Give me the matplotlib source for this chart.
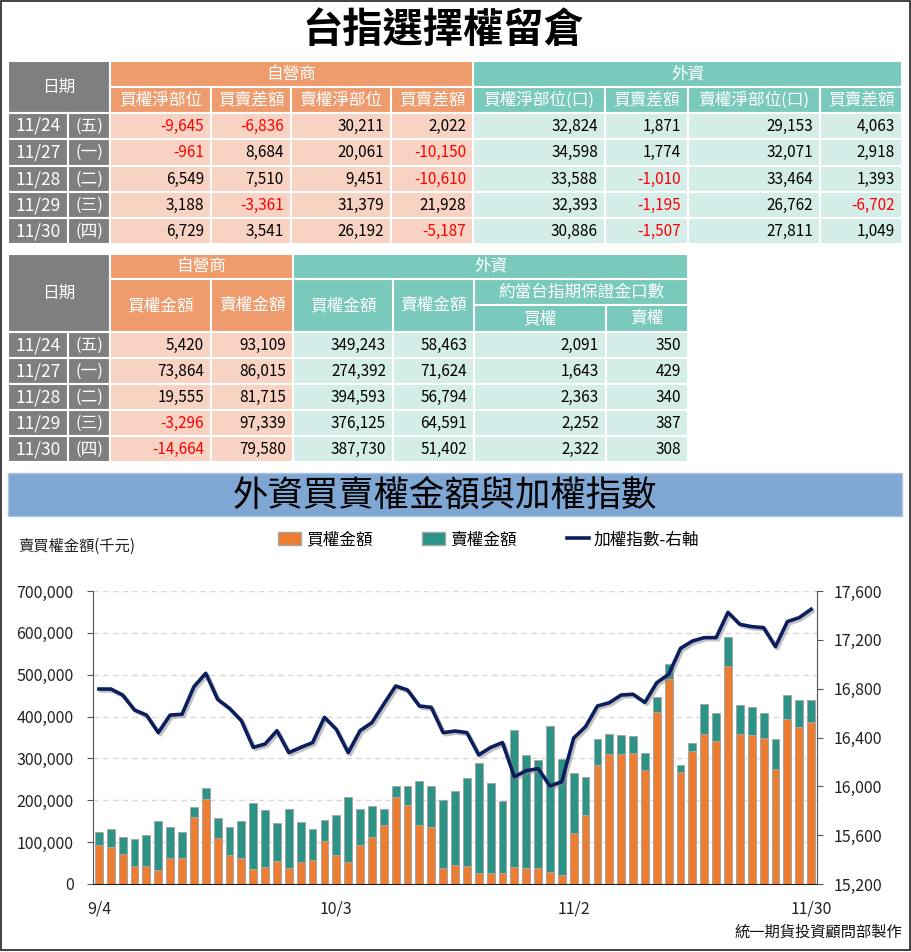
import matplotlib
matplotlib.use("Agg")
import matplotlib.pyplot as plt
import matplotlib.patheffects as pe
from matplotlib.patches import Rectangle, Patch
from matplotlib.lines import Line2D

plt.rcParams['font.family'] = ['Noto Sans CJK TC', 'DejaVu Sans']

# ---- table data ----
dates = ['11/24', '11/27', '11/28', '11/29', '11/30']
weekdays = ['(五)', '(一)', '(二)', '(三)', '(四)']

prop_call_net = [-9645, -961, 6549, 3188, 6729]
prop_call_diff = [-6836, 8684, 7510, -3361, 3541]
prop_put_net = [30211, 20061, 9451, 31379, 26192]
prop_put_diff = [2022, -10150, -10610, 21928, -5187]
fi_call_net = [32824, 34598, 33588, 32393, 30886]
fi_call_diff = [1871, 1774, -1010, -1195, -1507]
fi_put_net = [29153, 32071, 33464, 26762, 27811]
fi_put_diff = [4063, 2918, 1393, -6702, 1049]

prop_call_amt = [5420, 73864, 19555, -3296, -14664]
prop_put_amt = [93109, 86015, 81715, 97339, 79580]
fi_call_amt = [349243, 274392, 394593, 376125, 387730]
fi_put_amt = [58463, 71624, 56794, 64591, 51402]
fi_call_lots = [2091, 1643, 2363, 2252, 2322]
fi_put_lots = [350, 429, 340, 387, 308]

# ---- chart data (千元), 9/4 ~ 11/30 ----
days = ['9/4', '9/5', '9/6', '9/7', '9/8', '9/11', '9/12', '9/13', '9/14', '9/15',
        '9/18', '9/19', '9/20', '9/21', '9/22', '9/25', '9/26', '9/27', '9/28',
        '10/2', '10/3', '10/4', '10/5', '10/6', '10/11', '10/12', '10/13',
        '10/16', '10/17', '10/18', '10/19', '10/20', '10/23', '10/24', '10/25',
        '10/26', '10/27', '10/30', '10/31',
        '11/1', '11/2', '11/3', '11/6', '11/7', '11/8', '11/9', '11/10',
        '11/13', '11/14', '11/15', '11/16', '11/17', '11/20', '11/21', '11/22',
        '11/23', '11/24', '11/27', '11/28', '11/29', '11/30']
call_amt = [93000, 89000, 72000, 44000, 44000, 33000, 63000, 61000, 161000, 204000,
            111000, 69000, 63000, 36000, 41000, 55000, 39000, 53000, 57000, 103000,
            69000, 53000, 92000, 113000, 142000, 207000, 188000, 142000, 137000, 39000,
            45000, 44000, 26000, 26000, 26000, 41000, 39000, 39000, 29000, 22000,
            123000, 166000, 284000, 311000, 311000, 314000, 272000, 412000, 489000, 267000,
            318000, 358000, 342000, 522000, 358000, 356000] + fi_call_amt
put_amt = [32000, 42000, 41000, 63000, 72000, 117000, 74000, 64000, 22000, 25000,
           46000, 66000, 87000, 158000, 136000, 90000, 139000, 94000, 74000, 50000,
           96000, 156000, 87000, 73000, 37000, 27000, 46000, 105000, 96000, 162000,
           176000, 210000, 264000, 216000, 173000, 328000, 268000, 258000, 348000, 277000,
           143000, 90000, 63000, 48000, 46000, 39000, 42000, 34000, 37000, 18000,
           18000, 71000, 66000, 68000, 69000, 66000] + fi_put_amt
taiex = [16797, 16797, 16748, 16625, 16584, 16440, 16584, 16590, 16816, 16926,
         16713, 16639, 16538, 16319, 16347, 16456, 16276, 16319, 16358, 16565,
         16467, 16276, 16456, 16522, 16674, 16822, 16789, 16658, 16647, 16440,
         16453, 16440, 16257, 16319, 16358, 16079, 16128, 16145, 16003, 16038,
         16396, 16489, 16658, 16685, 16748, 16754, 16688, 16849, 16917, 17130,
         17190, 17218, 17218, 17425, 17327, 17308, 17300, 17144, 17349, 17382,
         17450]

GRAY = '#7f7f7f'
ORG_H = '#ee9b6e'
ORG_L = '#f8d3c3'
TEA_H = '#79cabd'
TEA_L = '#d4ede8'
BAR_ORG = '#ed7d31'
BAR_TEA = '#2b9486'
NAVY = '#0b1f5e'

W, H = 912, 952
fig = plt.figure(figsize=(W / 100, H / 100), dpi=100)

# overlay in pixel coords for the tables / titles
ov = fig.add_axes([0, 0, 1, 1])
ov.set_xlim(0, W)
ov.set_ylim(H, 0)
ov.axis('off')


def cell(x0, x1, y0, y1, fc, txt='', color='white', ha='center', size=12):
    ov.add_patch(Rectangle((x0, y0), x1 - x0, y1 - y0, facecolor=fc,
                           edgecolor='white', lw=1.5))
    if txt == '':
        return
    tx = {'center': (x0 + x1) / 2, 'right': x1 - 7, 'left': x0 + 4}[ha]
    ov.text(tx, (y0 + y1) / 2, txt, ha=ha, va='center', color=color, fontsize=size)


def num(v):
    return f"{v:,}"


ov.add_patch(Rectangle((1, 1), W - 3, H - 3, facecolor='none', edgecolor='#222222', lw=1.2))
ov.text(443, 31, '台指選擇權留倉', ha='center', va='center', fontsize=29, fontweight='bold')

# ---- table 1 ----
cx = [8, 68, 110, 211, 291, 391, 473, 605, 688, 820, 902]
ry = [61, 87, 113, 139, 166, 192, 218, 244]
cell(cx[0], cx[2], ry[0], ry[2], GRAY, '日期')
cell(cx[2], cx[6], ry[0], ry[1], ORG_H, '自營商')
cell(cx[6], cx[10], ry[0], ry[1], TEA_H, '外資')
hdr1 = ['買權淨部位', '買賣差額', '賣權淨部位', '買賣差額',
        '買權淨部位(口)', '買賣差額', '賣權淨部位(口)', '買賣差額']
for j, t in enumerate(hdr1):
    cell(cx[j + 2], cx[j + 3], ry[1], ry[2], ORG_H if j < 4 else TEA_H, t)
cols1 = [prop_call_net, prop_call_diff, prop_put_net, prop_put_diff,
         fi_call_net, fi_call_diff, fi_put_net, fi_put_diff]
for i in range(len(dates)):
    y0, y1 = ry[i + 2], ry[i + 3]
    cell(cx[0], cx[1], y0, y1, GRAY, dates[i], size=12.5)
    cell(cx[1], cx[2], y0, y1, GRAY, weekdays[i])
    for j, col in enumerate(cols1):
        v = col[i]
        cell(cx[j + 2], cx[j + 3], y0, y1, ORG_L if j < 4 else TEA_L, num(v),
             color='red' if v < 0 else 'black', ha='right', size=11)

# ---- table 2 ----
cx2 = [8, 68, 110, 211, 293, 393, 474, 606, 688]
ry2 = [254, 279, 305, 332, 358, 384, 410, 436, 462]
cell(cx2[0], cx2[2], ry2[0], ry2[3], GRAY, '日期')
cell(cx2[2], cx2[4], ry2[0], ry2[1], ORG_H, '自營商')
cell(cx2[4], cx2[8], ry2[0], ry2[1], TEA_H, '外資')
cell(cx2[2], cx2[3], ry2[1], ry2[3], ORG_H, '買權金額')
cell(cx2[3], cx2[4], ry2[1], ry2[3], ORG_H, '賣權金額')
cell(cx2[4], cx2[5], ry2[1], ry2[3], TEA_H, '買權金額')
cell(cx2[5], cx2[6], ry2[1], ry2[3], TEA_H, '賣權金額')
cell(cx2[6], cx2[8], ry2[1], ry2[2], TEA_H, '約當台指期保證金口數')
cell(cx2[6], cx2[7], ry2[2], ry2[3], TEA_H, '買權')
cell(cx2[7], cx2[8], ry2[2], ry2[3], TEA_H, '賣權')
cols2 = [prop_call_amt, prop_put_amt, fi_call_amt, fi_put_amt, fi_call_lots, fi_put_lots]
for i in range(len(dates)):
    y0, y1 = ry2[i + 3], ry2[i + 4]
    cell(cx2[0], cx2[1], y0, y1, GRAY, dates[i], size=12.5)
    cell(cx2[1], cx2[2], y0, y1, GRAY, weekdays[i])
    for j, col in enumerate(cols2):
        v = col[i]
        cell(cx2[j + 2], cx2[j + 3], y0, y1, ORG_L if j < 2 else TEA_L, num(v),
             color='red' if v < 0 else 'black', ha='right', size=11)

# ---- chart title bar ----
ov.add_patch(Rectangle((8, 473), 894, 43, facecolor='#7ea7d4', edgecolor='#a9c4e4', lw=1))
ov.text(445, 496, '外資買賣權金額與加權指數', ha='center', va='center', fontsize=25.5)
ov.text(18, 546, '賣買權金額(千元)', ha='left', va='center', fontsize=11, color='#222222')
ov.text(902, 932, '統一期貨投資顧問部製作', ha='right', va='center', fontsize=11,
        color='#111111')

# ---- chart ----
ax = fig.add_axes([93 / W, 1 - 884 / H, (817 - 93) / W, (884 - 591) / H])
x = range(len(days))
ax.bar(x, call_amt, width=0.66, color=BAR_ORG, edgecolor='#a6a6a6', lw=0.7)
ax.bar(x, put_amt, bottom=call_amt, width=0.66, color=BAR_TEA, edgecolor='#a6a6a6', lw=0.7)
ax.set_xlim(-0.5, len(days) - 0.5)
ax.set_ylim(0, 700000)
ax.set_yticks(range(0, 700001, 100000))
ax.set_yticklabels([f"{v:,}" for v in range(0, 700001, 100000)])
ax.set_axisbelow(True)
ax.grid(axis='y', ls=(0, (4, 3)), color='#d9d9d9', lw=1)
xt = [0, 20, 40, 60]
ax.set_xticks(xt)
ax.set_xticklabels([days[i] for i in xt])
ax.tick_params(axis='x', length=0, pad=12, labelsize=11.5, labelcolor='#222222')
ax.tick_params(axis='y', length=4, direction='out', labelsize=11.5, labelcolor='#222222',
               color='#555555', pad=10)
for s in ['top', 'right']:
    ax.spines[s].set_visible(False)
ax.spines['left'].set_color('#555555')
ax.spines['bottom'].set_color('#222222')

ax2 = ax.twinx()
ax2.plot(x, taiex, color=NAVY, lw=2.6, solid_joinstyle='round',
         path_effects=[pe.SimpleLineShadow(offset=(1.5, -1.5), shadow_color='#888888', alpha=0.5),
                       pe.Normal()])
ax2.set_ylim(15200, 17600)
ax2.set_yticks(range(15200, 17601, 400))
ax2.set_yticklabels([f"{v:,}" for v in range(15200, 17601, 400)])
ax2.tick_params(axis='y', length=4, direction='out', labelsize=11.5, labelcolor='#222222',
                color='#555555', pad=8)
for s in ['top', 'left', 'bottom']:
    ax2.spines[s].set_visible(False)
ax2.spines['right'].set_color('#555555')

handles = [Patch(facecolor=BAR_ORG, edgecolor='#a6a6a6'),
           Patch(facecolor=BAR_TEA, edgecolor='#a6a6a6'),
           Line2D([], [], color=NAVY, lw=2.6)]
fig.legend(handles, ['買權金額', '賣權金額', '加權指數-右軸'], loc='center',
           bbox_to_anchor=(489 / W, 1 - 540 / H), ncol=3, frameon=False, fontsize=12,
           handlelength=1.35, handleheight=0.8, handletextpad=0.3, columnspacing=3.0)

fig.savefig('out.png', dpi=100)
